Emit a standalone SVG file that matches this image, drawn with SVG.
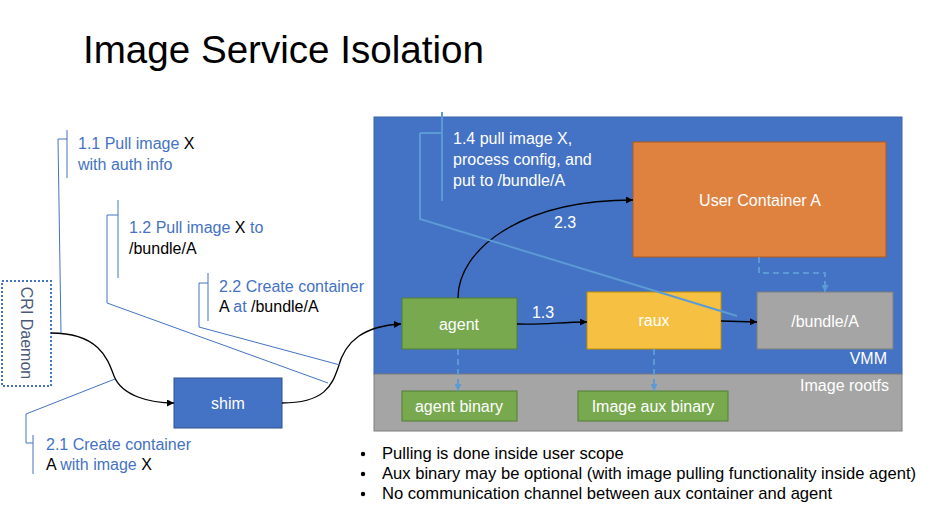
<svg xmlns="http://www.w3.org/2000/svg" width="932" height="518" viewBox="0 0 932 518">
<defs>
<marker id="arr" viewBox="0 0 10 10" refX="10" refY="5" markerWidth="7" markerHeight="7" markerUnits="userSpaceOnUse" orient="auto"><path d="M0,0 L10,5 L0,10 z" fill="#000"/></marker>
<marker id="arrb" viewBox="0 0 10 10" refX="10" refY="5" markerWidth="7" markerHeight="7" markerUnits="userSpaceOnUse" orient="auto"><path d="M0,0 L10,5 L0,10 z" fill="#5b9bd5"/></marker>
</defs>
<style>
text{font-family:"Liberation Sans",Arial,sans-serif;font-size:16px}
.w{fill:#fff}
.c{text-anchor:middle}
.r{text-anchor:end}
.b{fill:#4472c4}
.k{fill:#000}
.n{font-size:16.6px}
.conn{fill:none;stroke:#000;stroke-width:1.3}
.br{fill:none;stroke:#4472c4;stroke-width:1}
.br2{fill:none;stroke:#5b9bd5;stroke-width:2}
.dash{fill:none;stroke:#5b9bd5;stroke-width:2;stroke-dasharray:6 4}
</style>
<rect width="932" height="518" fill="#fff"/>
<text x="83" y="63" style="font-size:38.6px" fill="#000">Image Service Isolation</text>

<g id="vmm">
<rect x="374" y="117" width="528" height="257" fill="#4472c4" stroke="#3b62a8" stroke-width="1"/>
<text x="887" y="364" class="w r">VMM</text>
</g>
<g id="rootfs">
<rect x="374" y="374" width="528" height="57" fill="#a5a5a5" stroke="#7f7f7f" stroke-width="1"/>
<text x="889" y="391" class="w r">Image rootfs</text>
</g>

<g id="cri">
<rect x="2" y="281" width="49" height="105" fill="#fff" stroke="#4472c4" stroke-width="2" stroke-dasharray="2 2"/>
<text x="0" y="0" transform="translate(21,333) rotate(90)" class="c" fill="#4a5a78">CRI Daemon</text>
</g>
<g id="shim">
<rect x="174" y="378" width="108" height="50" fill="#4472c4" stroke="#2f528f" stroke-width="1"/>
<text x="228" y="409" class="w c">shim</text>
</g>
<g id="agent">
<rect x="402" y="298" width="115" height="51" fill="#78a94f" stroke="#507e32" stroke-width="1"/>
<text x="459" y="330" class="w c">agent</text>
</g>
<g id="raux">
<rect x="587" y="292" width="134" height="57" fill="#f6c142" stroke="#bf9000" stroke-width="1"/>
<text x="654" y="326" class="w c">raux</text>
</g>
<g id="bundle">
<rect x="757" y="292" width="136" height="57" fill="#a5a5a5" stroke="#7f7f7f" stroke-width="1"/>
<text x="825" y="327" class="w c">/bundle/A</text>
</g>
<g id="user">
<rect x="633" y="142" width="253" height="115" fill="#e0823f" stroke="#ae5a21" stroke-width="1"/>
<text x="760" y="206" class="w c">User Container A</text>
</g>
<g id="agentbin">
<rect x="402" y="391" width="115" height="30" fill="#78a94f" stroke="#507e32" stroke-width="1"/>
<text x="459" y="412" class="w c">agent binary</text>
</g>
<g id="auxbin">
<rect x="578" y="391" width="150" height="30" fill="#78a94f" stroke="#507e32" stroke-width="1"/>
<text x="653" y="412" class="w c">Image aux binary</text>
</g>

<g id="connectors">
<path class="conn" d="M51,333 C100,333 108,360 114,376 C122,396 150,403 174,403" marker-end="url(#arr)"/>
<path class="conn" d="M282,403 C325,403 332,385 338,368 C345,340 365,326 401,324" marker-end="url(#arr)"/>
<path class="conn" d="M458,298 C458,250 520,200 633,200" marker-end="url(#arr)"/>
<path class="conn" d="M517,324 C545,325 560,322 587,322" marker-end="url(#arr)"/>
<path class="conn" d="M721,321 L757,322" marker-end="url(#arr)"/>
<path class="dash" d="M759,257 V273 H825 V292" marker-end="url(#arrb)"/>
<path class="dash" d="M458,349 V391" marker-end="url(#arrb)"/>
<path class="dash" d="M654,349 V391" marker-end="url(#arrb)"/>
<path class="br" d="M67,130 V178 M58,139 H67 M58,139 L61,333"/>
<path class="br" d="M118,200 V278 M107,215 H118 M107,215 V303 L328,383"/>
<path class="br" d="M208,273 V321 M199,283 H208 M199,283 V327 L340,365"/>
<path class="br" d="M115,379 L26,414 V443 H33 M33,435 V474"/>
<path class="br2" d="M442,112 V201 M420,133 H442 M420,133 V219 L737,316"/>
</g>

<g id="labels">
<text x="78" y="149" class="b">1.1 Pull image <tspan class="k">X</tspan></text>
<text x="78" y="170" class="b">with auth info</text>
<text x="129" y="233" class="b">1.2 Pull image <tspan class="k">X</tspan> to</text>
<text x="129" y="254" class="k">/bundle/A</text>
<text x="219" y="292" class="b">2.2 Create container</text>
<text x="219" y="312" class="k">A <tspan class="b">at</tspan> /bundle/A</text>
<text x="46" y="450" class="b">2.1 Create container</text>
<text x="46" y="470" class="k">A <tspan class="b">with image</tspan> X</text>
<text x="453" y="144" class="w">1.4 pull image X,</text>
<text x="453" y="165" class="w">process config, and</text>
<text x="453" y="186" class="w">put to /bundle/A</text>
<text x="565" y="228" class="w c">2.3</text>
<text x="543" y="318" class="w c">1.3</text>
</g>

<g id="notes">
<circle cx="363" cy="454" r="2.2" fill="#000"/>
<circle cx="363" cy="474" r="2.2" fill="#000"/>
<circle cx="363" cy="494" r="2.2" fill="#000"/>
<text x="382" y="459" class="k n">Pulling is done inside user scope</text>
<text x="382" y="479" class="k n">Aux binary may be optional (with image pulling functionality inside agent)</text>
<text x="382" y="499" class="k n">No communication channel between aux container and agent</text>
</g>
</svg>
